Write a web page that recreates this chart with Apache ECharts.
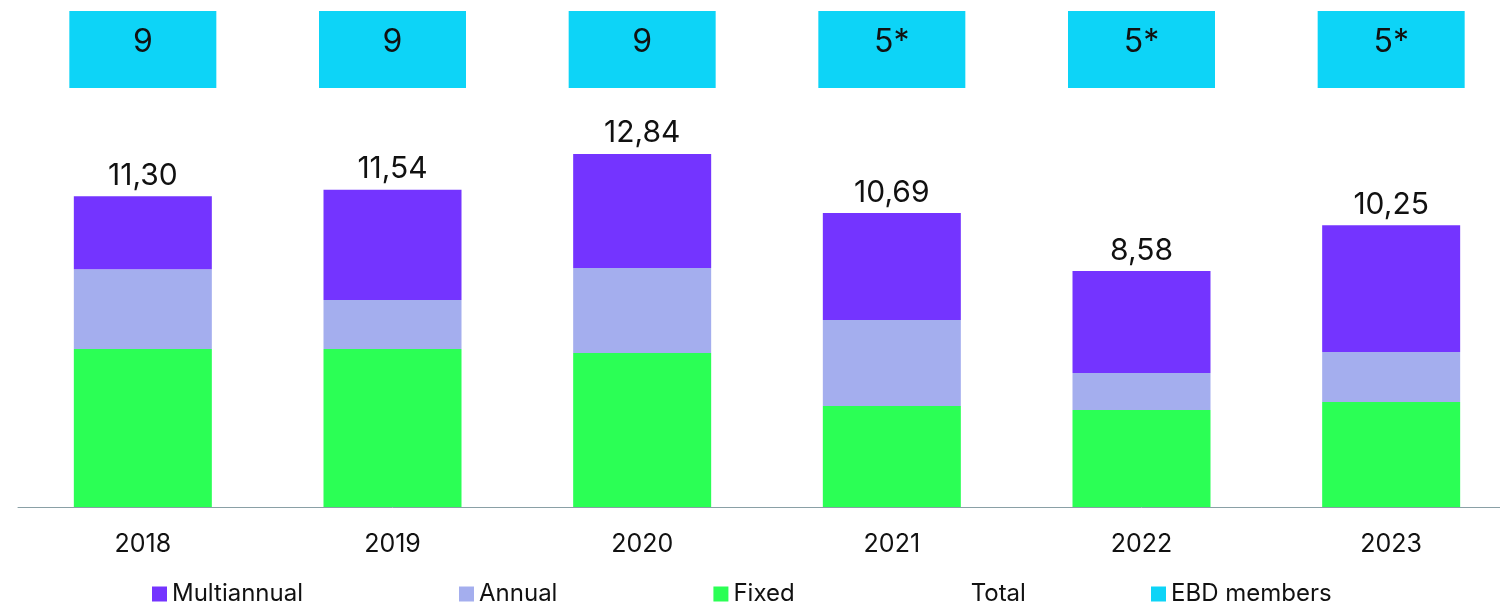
<!DOCTYPE html>
<html>
<head>
<meta charset="utf-8">
<script src="https://cdn.jsdelivr.net/npm/echarts@6/dist/echarts.min.js"></script>
<style>
html, body { margin: 0; padding: 0; background: #fff; overflow: hidden; }
#remChart { width: 1516px; height: 609px; }
</style>
</head>
<body>
<div id="remChart"></div>
<script>
// 数据
var years = ["2018", "2019", "2020", "2021", "2022", "2023"];
var fixed = [5.75, 5.75, 5.6, 3.67, 3.53, 3.82];
var annual = [2.9, 1.78, 3.09, 3.13, 1.34, 1.82];
var multiannual = [2.65, 4.01, 4.15, 3.89, 3.71, 4.61];
var totals = [11.30, 11.54, 12.84, 10.69, 8.58, 10.25];
var ebdMembers = ["9", "9", "9", "5*", "5*", "5*"];

var font = "Inter";
var remChart = echarts.init(document.getElementById("remChart"));

var legendText = { fontFamily: font, fontSize: 24, color: "#111" };

var option = {
	animation: false,
	grid: {
		left: 18,
		right: 0,
		top: 12,
		bottom: 102,
		containLabel: false,
	},
	legend: [
		{
			top: 582,
			left: 152,
			padding: 0,
			icon: "rect",
			itemWidth: 15,
			itemHeight: 15,
			itemGap: 156,
			textStyle: legendText,
			data: [
				{ name: "Multiannual" },
				{ name: "Annual" },
				{ name: "Fixed" },
				{ name: "Total", itemStyle: { color: "rgba(0,0,0,0)" }, lineStyle: { opacity: 0 } },
			],
		},
		{
			top: 582,
			left: 1151,
			padding: 0,
			icon: "rect",
			itemWidth: 15,
			itemHeight: 15,
			textStyle: legendText,
			data: ["EBD members"],
		},
	],
	xAxis: {
		type: "category",
		data: years,
		axisLine: { show: true, lineStyle: { color: "#8aa0a6", width: 1 } },
		axisTick: { show: false },
		axisLabel: { fontFamily: font, fontSize: 25, color: "#111", margin: 25 },
	},
	yAxis: {
		type: "value",
		min: 0,
		max: 18,
		show: false,
		splitLine: { show: false },
	},
	series: [
		{
			name: "Fixed",
			type: "bar",
			stack: "rem",
			barWidth: 138,
			itemStyle: { color: "#2bff55" },
			data: fixed,
		},
		{
			name: "Annual",
			type: "bar",
			stack: "rem",
			itemStyle: { color: "#a4aeee" },
			data: annual,
		},
		{
			name: "Multiannual",
			type: "bar",
			stack: "rem",
			itemStyle: { color: "#7434ff" },
			data: multiannual,
		},
		{
			name: "Total",
			type: "line",
			symbol: "circle",
			symbolSize: 1,
			showSymbol: true,
			lineStyle: { opacity: 0 },
			itemStyle: { color: "rgba(0,0,0,0)" },
			data: totals,
			label: {
				show: true,
				position: "top",
				distance: 5,
				fontFamily: font,
				fontSize: 30,
				color: "#111",
				formatter: function (p) {
					return p.value.toFixed(2).replace(".", ",");
				},
			},
		},
		{
			name: "EBD members",
			type: "scatter",
			symbol: "rect",
			symbolSize: [147, 77],
			itemStyle: { color: "#0dd4f7", opacity: 1 },
			data: ebdMembers.map(function (m) {
				return { value: 16.64, name: m };
			}),
			label: {
				show: true,
				position: "inside",
				offset: [0, -7],
				fontFamily: font,
				fontSize: 32,
				color: "#111",
				formatter: function (p) {
					return p.name;
				},
			},
		},
	],
};
remChart.setOption(option, true);
</script>
</body>
</html>
